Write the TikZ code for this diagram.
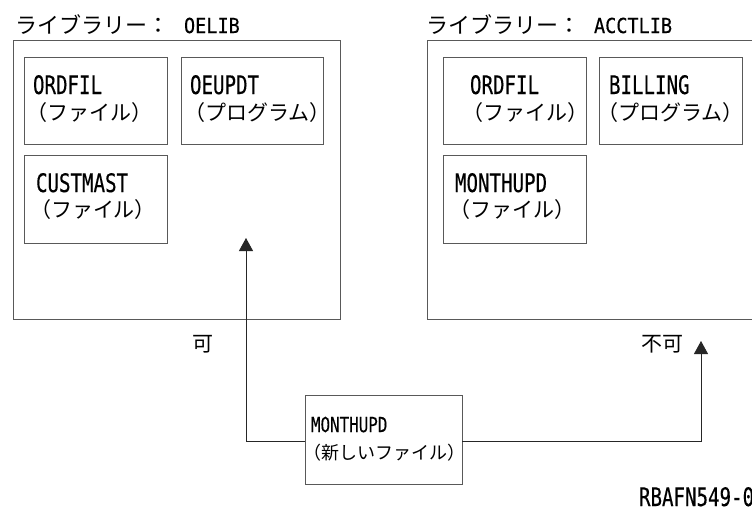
\documentclass[tikz,border=0pt]{standalone}
\usepackage{fontspec}
\usetikzlibrary{arrows.meta}
\newfontfamily\jpf{Noto Sans CJK JP}
\newfontfamily\monoA[FakeStretch=0.75,FakeBold=0.35]{DejaVu Sans Mono}
\newfontfamily\monoS[FakeStretch=0.77,FakeBold=0.3]{DejaVu Sans Mono}
\newfontfamily\monoT[FakeStretch=0.9,FakeBold=0.3]{DejaVu Sans Mono}
\newcommand\Lbody[1]{{\monoA\fontsize{25.5pt}{26pt}\selectfont #1}}
\newcommand\Lsmall[1]{{\monoS\fontsize{20.6pt}{22pt}\selectfont #1}}
\newcommand\Ltitle[1]{{\monoT\fontsize{20.6pt}{22pt}\selectfont #1}}
\newcommand\Jbody[1]{{\jpf\fontsize{21pt}{22pt}\selectfont #1}}
\newcommand\Jsmall[1]{{\jpf\fontsize{18pt}{20pt}\selectfont #1}}
\newcommand\Jtitle[1]{{\jpf\fontsize{22pt}{24pt}\selectfont #1}}
\begin{document}
\begin{tikzpicture}[x=1pt,y=-1pt,
  frame/.style={draw=black!65, line width=0.9pt, inner sep=0pt, outer sep=0pt, anchor=north west},
  txt/.style={anchor=base west, inner sep=0pt, outer sep=0pt},
  conn/.style={draw=black!85, line width=0.9pt},
  tip/.style={-{Triangle[width=14pt,length=13pt]}}]
\useasboundingbox (0,0) rectangle (752,507);
\clip (0,0) rectangle (752,507);
\fill[white] (0,0) rectangle (752,507);

% library boxes
\node[frame, minimum width=327pt, minimum height=279pt] (libA) at (13,40) {};
\node[frame, minimum width=345pt, minimum height=279pt] (libB) at (427,40) {};
% titles
\node[txt] (titleA) at (16,33) {\Jtitle{ライブラリー：}\hspace{14pt}\Ltitle{OELIB}};
\node[txt] (titleB) at (426,33) {\Jtitle{ライブラリー：}\hspace{14pt}\Ltitle{ACCTLIB}};

% inner boxes of OELIB
\node[frame, minimum width=143pt, minimum height=87pt] (a1) at (24,57) {};
\node[frame, minimum width=142pt, minimum height=87pt] (a2) at (181,57) {};
\node[frame, minimum width=143pt, minimum height=88pt] (a3) at (24,155) {};
\node[txt] (a1t) at (33,94) {\Lbody{ORDFIL}};
\node[txt] (a1j) at (27,120) {\Jbody{（ファイル）}};
\node[txt] (a2t) at (190,94) {\Lbody{OEUPDT}};
\node[txt] (a2j) at (184,120) {\Jbody{（プログラム）}};
\node[txt] (a3t) at (36,192) {\Lbody{CUSTMAST}};
\node[txt] (a3j) at (30,217) {\Jbody{（ファイル）}};

% inner boxes of ACCTLIB
\node[frame, minimum width=143pt, minimum height=87pt] (b1) at (443,57) {};
\node[frame, minimum width=143pt, minimum height=87pt] (b2) at (599,57) {};
\node[frame, minimum width=143pt, minimum height=88pt] (b3) at (443,155) {};
\node[txt] (b1t) at (470,94) {\Lbody{ORDFIL}};
\node[txt] (b1j) at (462,120) {\Jbody{（ファイル）}};
\node[txt] (b2t) at (609,94) {\Lbody{BILLING}};
\node[txt] (b2j) at (597,120) {\Jbody{（プログラム）}};
\node[txt] (b3t) at (455,192) {\Lbody{MONTHUPD}};
\node[txt] (b3j) at (449,217) {\Jbody{（ファイル）}};

% new file
\node[frame, minimum width=157pt, minimum height=89pt] (m) at (305,395) {};
\node[txt] (mt) at (311,432) {\Lsmall{MONTHUPD}};
\node[txt] (mj) at (303,459) {\Jsmall{（新しいファイル）}};

% connectors
\coordinate (tA) at (246,238);
\coordinate (tB) at (701,341);
\draw[conn,tip] ([yshift=-2pt]m.west) -| (tA);
\draw[conn,tip] ([yshift=-2pt]m.east) -| (tB);

\node[txt] (ok) at (192,351) {\Jbody{可}};
\node[txt] (ng) at (641,351) {\Jbody{不可}};
\node[txt] (ref) at (639,506) {\Lbody{RBAFN549-0}};
\end{tikzpicture}
\end{document}
